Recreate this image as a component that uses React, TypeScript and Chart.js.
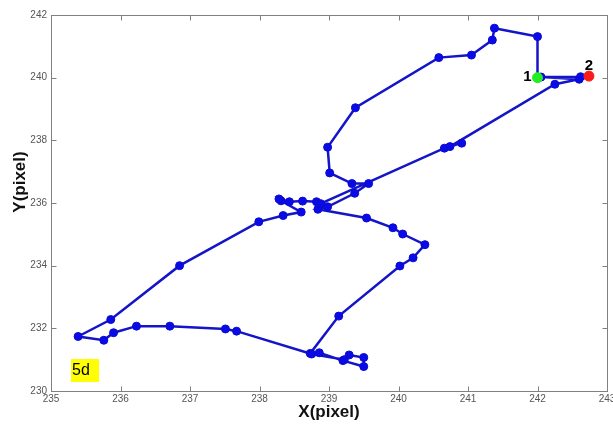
import React, { useEffect, useRef } from 'react';
import { Chart, registerables } from 'chart.js';

Chart.register(...registerables);

// Trajectory (pixel coordinates)
const xValues = [
  242.0, 242.0, 241.38, 241.35, 241.05, 240.58, 239.38, 238.98, 239.01, 239.33,
  239.57, 239.37, 238.98, 238.84, 239.54, 239.92, 240.06, 240.38, 240.21, 240.02,
  239.14, 238.73, 238.86, 239.2, 239.5, 239.5, 239.29, 239.22, 238.75, 237.67,
  237.51, 236.71, 236.23, 235.9, 235.76, 235.39, 235.86, 236.85, 237.99, 238.34,
  238.6, 238.31, 238.28, 238.43, 238.62, 238.82, 238.88, 240.66, 240.91, 240.74,
  242.25, 242.6, 242.05, 242.62, 242.74,
];
const yValues = [
  240.0, 241.31, 241.58, 241.2, 240.72, 240.64, 239.04, 237.78, 236.96, 236.62,
  236.62, 236.31, 235.88, 235.8, 235.52, 235.21, 235.01, 234.67, 234.25, 233.99,
  232.39, 231.2, 231.22, 230.97, 230.78, 231.07, 231.15, 231.0, 231.18, 231.91,
  231.98, 232.07, 232.07, 231.86, 231.62, 231.74, 232.28, 234.0, 235.4, 235.6,
  235.71, 236.07, 236.13, 236.04, 236.06, 236.04, 235.98, 237.75, 237.91, 237.8,
  239.79, 239.95, 240.02, 240.03, 240.05,
];
const startPoint = { x: 242.0, y: 240.0 };
const endPoint = { x: 242.74, y: 240.05 };
const xTicks = [235, 236, 237, 238, 239, 240, 241, 242, 243];
const yTicks = [230, 232, 234, 236, 238, 240, 242];
const startLabel = '1';
const endLabel = '2';
const panelLabel = '5d';
const xTitle = 'X(pixel)';
const yTitle = 'Y(pixel)';

const FONT = '"Liberation Sans", Arial, sans-serif';

const decor = {
  id: 'decor',
  beforeDatasetsDraw(chart: any) {
    const { ctx, chartArea: a, scales } = chart;
    const L = Math.round(a.left) + 0.5;
    const T = Math.round(a.top) + 0.5;
    const R = Math.round(a.right) + 0.5;
    const B = Math.round(a.bottom) + 0.5;
    ctx.save();
    ctx.strokeStyle = '#808080';
    ctx.lineWidth = 1;
    ctx.strokeRect(L, T, R - L, B - T);
    const tl = 5;
    ctx.beginPath();
    xTicks.forEach((v) => {
      const px = Math.round(scales.x.getPixelForValue(v)) + 0.5;
      ctx.moveTo(px, B);
      ctx.lineTo(px, B - tl);
      ctx.moveTo(px, T);
      ctx.lineTo(px, T + tl);
    });
    yTicks.forEach((v) => {
      const py = Math.round(scales.y.getPixelForValue(v)) + 0.5;
      ctx.moveTo(L, py);
      ctx.lineTo(L + tl, py);
      ctx.moveTo(R, py);
      ctx.lineTo(R - tl, py);
    });
    ctx.stroke();
    ctx.restore();
  },
  afterDraw(chart: any) {
    const { ctx, chartArea: a, scales } = chart;
    ctx.save();
    // axis titles
    ctx.fillStyle = '#111';
    ctx.font = `bold 17px ${FONT}`;
    ctx.textAlign = 'center';
    ctx.textBaseline = 'middle';
    ctx.fillText(xTitle, (a.left + a.right) / 2, 412);
    ctx.save();
    ctx.translate(20, 182);
    ctx.rotate(-Math.PI / 2);
    ctx.fillText(yTitle, 0, 0);
    ctx.restore();
    // point labels
    const sx = scales.x.getPixelForValue(startPoint.x);
    const sy = scales.y.getPixelForValue(startPoint.y);
    const ex = scales.x.getPixelForValue(endPoint.x);
    const ey = scales.y.getPixelForValue(endPoint.y);
    ctx.fillStyle = '#000';
    ctx.font = `bold 15px ${FONT}`;
    ctx.textAlign = 'right';
    ctx.textBaseline = 'middle';
    ctx.fillText(startLabel, sx - 6, sy - 1);
    ctx.textAlign = 'center';
    ctx.textBaseline = 'alphabetic';
    ctx.fillText(endLabel, ex, ey - 6);
    // panel label
    const bx = a.left + 20;
    const by = a.bottom - 32;
    ctx.fillStyle = '#ffff00';
    ctx.fillRect(bx, by, 28, 23);
    ctx.fillStyle = '#000';
    ctx.font = `16px ${FONT}`;
    ctx.textAlign = 'left';
    ctx.textBaseline = 'middle';
    ctx.fillText(panelLabel, bx + 1, by + 12);
    ctx.restore();
  },
};

export default function App() {
  const ref = useRef<HTMLCanvasElement | null>(null);
  useEffect(() => {
    if (!ref.current) return;
    const path = xValues.map((x, i) => ({ x, y: yValues[i] }));
    const chart = new Chart(ref.current, {
      type: 'scatter',
      data: {
        datasets: [
          {
            data: [startPoint],
            pointRadius: 5,
            pointBackgroundColor: '#22ee22',
            pointBorderColor: '#22ee22',
            showLine: false,
            order: 0,
          },
          {
            data: [endPoint],
            pointRadius: 5,
            pointBackgroundColor: '#ff1a1a',
            pointBorderColor: '#ff1a1a',
            showLine: false,
            order: 0,
          },
          {
            data: path,
            showLine: true,
            borderColor: '#1414c8',
            borderWidth: 2.5,
            pointRadius: 4,
            pointBackgroundColor: '#0a0ae6',
            pointBorderColor: '#0a0ad0',
            pointBorderWidth: 1,
            order: 1,
          },
        ],
      },
      options: {
        animation: false,
        responsive: false,
        maintainAspectRatio: false,
        layout: { padding: { top: 15, right: 5, left: 0, bottom: 0 } },
        plugins: { legend: { display: false }, tooltip: { enabled: false } },
        scales: {
          x: {
            type: 'linear',
            min: 235,
            max: 243,
            grid: { display: false, drawTicks: false },
            border: { display: false },
            afterBuildTicks: (s: any) => {
              s.ticks = xTicks.map((v) => ({ value: v }));
            },
            afterFit: (s: any) => {
              s.height = 33;
              s.paddingLeft = 0;
              s.paddingRight = 0;
            },
            ticks: {
              autoSkip: false,
              maxRotation: 0,
              padding: 2,
              color: '#555',
              font: { family: FONT, size: 10 },
            },
          },
          y: {
            type: 'linear',
            min: 230,
            max: 242,
            grid: { display: false, drawTicks: false },
            border: { display: false },
            afterBuildTicks: (s: any) => {
              s.ticks = yTicks.map((v) => ({ value: v }));
            },
            afterFit: (s: any) => {
              s.width = 51;
              s.paddingTop = 0;
              s.paddingBottom = 0;
            },
            ticks: {
              autoSkip: false,
              padding: 4,
              color: '#555',
              font: { family: FONT, size: 10 },
            },
          },
        },
      },
      plugins: [decor],
    });
    return () => chart.destroy();
  }, []);
  return (
    <div style={{ position: 'absolute', left: 0, top: 0, width: 613, height: 424, background: '#fff' }}>
      <canvas ref={ref} width={613} height={424} style={{ width: 613, height: 424 }} />
    </div>
  );
}
